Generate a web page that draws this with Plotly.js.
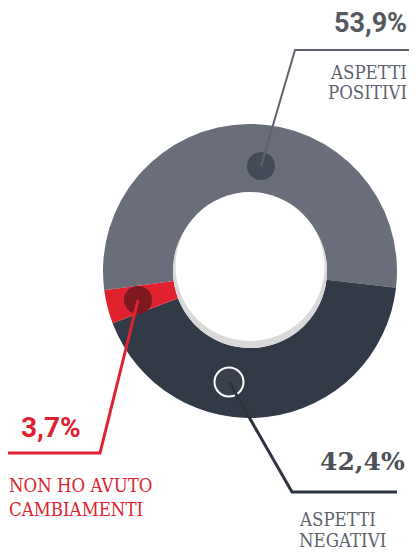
<!DOCTYPE html>
<html>
<head>
<meta charset="utf-8">
<script src="https://cdn.plot.ly/plotly-3.0.1.min.js"></script>
<style>html,body{margin:0;padding:0;background:#fff;}#chart{width:417px;height:552px;}</style>
</head>
<body>
<div id="chart"></div>
<script>
// data
const categories = ["ASPETTI POSITIVI", "ASPETTI NEGATIVI", "NON HO AVUTO CAMBIAMENTI"];
const values = [53.9, 42.4, 3.7];
const valueLabels = ["53,9%", "42,4%", "3,7%"];
const labelLines = [["ASPETTI", "POSITIVI"], ["ASPETTI", "NEGATIVI"], ["NON HO AVUTO", "CAMBIAMENTI"]];

const W = 417, H = 552;
const px = x => x / W;
const py = y => 1 - y / H;

const colors = ["#696e7a", "#323a47", "#e0222f"];
const cx = 250, cy = 271, R = 147, rHole = 77;

function circle(x, y, r, fill, line) {
  return {type: "circle", xref: "paper", yref: "paper",
    x0: px(x - r), x1: px(x + r), y0: py(y + r), y1: py(y - r),
    fillcolor: fill, line: line || {width: 0}, layer: "above"};
}
function path(pts, color, width) {
  let d = pts.map((p, i) => (i ? "L" : "M") + px(p[0]) + "," + py(p[1])).join(" ");
  return {type: "path", xref: "paper", yref: "paper", path: d,
    line: {color: color, width: width}, layer: "above"};
}

const shapes = [
  // hole shadow
  circle(cx, cy, rHole, "#d9d9d9"),
  circle(cx, cy - 4.5, 74.5, "#ffffff"),
  // callout dots
  circle(261, 166, 14, "#444a57"),
  circle(138, 300, 14, "#7e1a1f"),
  circle(229, 382, 14.5, "#3a414d", {color: "#ffffff", width: 2}),
  // leader lines
  path([[261, 166], [295, 50], [409, 50]], "#5d626d", 2),
  path([[138, 300], [100, 453], [8, 453]], "#e0222f", 3),
  path([[229, 382], [292, 492], [397, 492]], "#2d3440", 3)
];

const serif = "DejaVu Serif Condensed, DejaVu Serif, serif";
const fs = 18.5;
function line(text, x, y, anchor, color) {
  return {text: text, x: px(x), y: py(y), xanchor: anchor, yanchor: "middle",
    font: {family: serif, size: fs, color: color}};
}
const annotations = [
  {text: valueLabels[0], x: px(409), y: py(23), xanchor: "right", yanchor: "middle",
   font: {family: "Roboto, sans-serif", size: 27, color: "#55585f", weight: 700}},
  line(labelLines[0][0], 409, 72, "right", "#5d626d"),
  line(labelLines[0][1], 409, 93, "right", "#5d626d"),
  {text: valueLabels[1], x: px(407), y: py(461), xanchor: "right", yanchor: "middle",
   font: {family: "DejaVu Serif, serif", size: 25, color: "#4d5059", weight: 700}},
  line(labelLines[1][0], 297, 519, "left", "#5d626d"),
  line(labelLines[1][1], 297, 540, "left", "#5d626d"),
  {text: valueLabels[2], x: px(19), y: py(427), xanchor: "left", yanchor: "middle",
   font: {family: "Roboto, sans-serif", size: 28, color: "#e0222f", weight: 700}},
  line(labelLines[2][0], 7, 485, "left", "#e0222f"),
  line(labelLines[2][1], 7, 509, "left", "#e0222f")
];
annotations.forEach(a => { a.xref = "paper"; a.yref = "paper"; a.showarrow = false; });

const trace = {
  type: "pie",
  labels: categories,
  values: values,
  hole: rHole / R,
  sort: false,
  direction: "clockwise",
  rotation: -97.5,
  textinfo: "none",
  hoverinfo: "none",
  showlegend: false,
  marker: {colors: colors, line: {width: 0}},
  domain: {x: [px(cx - R), px(cx + R)], y: [py(cy + R), py(cy - R)]}
};

const layout = {
  width: W, height: H,
  margin: {l: 0, r: 0, t: 0, b: 0},
  paper_bgcolor: "#ffffff",
  shapes: shapes,
  annotations: annotations
};

Plotly.newPlot("chart", [trace], layout, {staticPlot: true, displayModeBar: false});
</script>
</body>
</html>
